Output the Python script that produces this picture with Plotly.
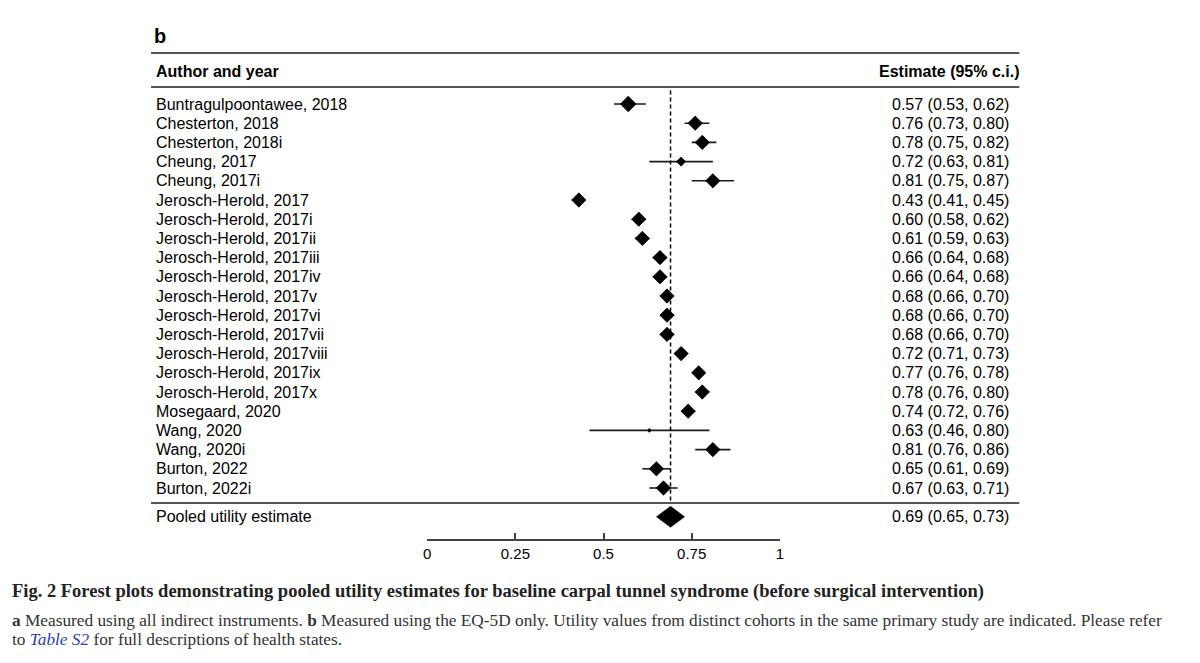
import plotly.graph_objects as go

studies = [
    "Buntragulpoontawee, 2018", "Chesterton, 2018", "Chesterton, 2018i",
    "Cheung, 2017", "Cheung, 2017i", "Jerosch-Herold, 2017",
    "Jerosch-Herold, 2017i", "Jerosch-Herold, 2017ii", "Jerosch-Herold, 2017iii",
    "Jerosch-Herold, 2017iv", "Jerosch-Herold, 2017v", "Jerosch-Herold, 2017vi",
    "Jerosch-Herold, 2017vii", "Jerosch-Herold, 2017viii", "Jerosch-Herold, 2017ix",
    "Jerosch-Herold, 2017x", "Mosegaard, 2020", "Wang, 2020", "Wang, 2020i",
    "Burton, 2022", "Burton, 2022i",
]
est = [0.57, 0.76, 0.78, 0.72, 0.81, 0.43, 0.60, 0.61, 0.66, 0.66, 0.68,
       0.68, 0.68, 0.72, 0.77, 0.78, 0.74, 0.63, 0.81, 0.65, 0.67]
ci_low = [0.53, 0.73, 0.75, 0.63, 0.75, 0.41, 0.58, 0.59, 0.64, 0.64, 0.66,
          0.66, 0.66, 0.71, 0.76, 0.76, 0.72, 0.46, 0.76, 0.61, 0.63]
ci_high = [0.62, 0.80, 0.82, 0.81, 0.87, 0.45, 0.62, 0.63, 0.68, 0.68, 0.70,
           0.70, 0.70, 0.73, 0.78, 0.80, 0.76, 0.80, 0.86, 0.69, 0.71]
weights = [12, 11, 11, 7, 11, 11, 11, 11, 11, 11, 11, 11, 11, 11, 11, 11, 11, 3, 11, 11, 11]

pooled_label = "Pooled utility estimate"
pooled_est = 0.69
pooled_low = 0.65
pooled_high = 0.73

tick_vals = [0, 0.25, 0.5, 0.75, 1]
tick_text = ["0", "0.25", "0.5", "0.75", "1"]

n = len(studies)
rows = list(range(n))
pooled_row = n + 0.5

FONT = "Liberation Sans, Arial, sans-serif"
SERIF = "Liberation Serif, DejaVu Serif, serif"
W, H = 1200, 663
OFF = 8  # page body margin
row_h = 19.2
top_px = 104 - OFF
y_top = -top_px / row_h
y_bot = (H - top_px) / row_h

def py(px):
    return 1 - (px - OFF) / H

def pxx(px):
    return (px - OFF) / W

fig = go.Figure()

fig.add_trace(go.Scatter(
    x=est, y=rows, mode="markers",
    marker=dict(symbol="diamond", size=weights, color="#000000", opacity=1,
                line=dict(width=0.8, color="#000000")),
    error_x=dict(type="data", symmetric=False,
                 array=[h - e for h, e in zip(ci_high, est)],
                 arrayminus=[e - l for e, l in zip(est, ci_low)],
                 width=0, thickness=1.6, color="#1a1a1a"),
    showlegend=False, hoverinfo="skip",
))

dh = 0.55
fig.add_trace(go.Scatter(
    x=[pooled_low, pooled_est, pooled_high, pooled_est, pooled_low],
    y=[pooled_row, pooled_row - dh, pooled_row, pooled_row + dh, pooled_row],
    mode="lines", fill="toself", fillcolor="black",
    line=dict(color="black", width=0.5),
    showlegend=False, hoverinfo="skip",
))

fig.add_shape(type="line", xref="x", yref="y",
              x0=pooled_est, x1=pooled_est, y0=-0.7, y1=n - 0.3,
              line=dict(color="black", width=1.5, dash="4px,3px"))

x_left = pxx(148)
x_right = pxx(1022)
for ypx, wd in [(53, 2.2), (87, 1.8), (503, 1.8)]:
    fig.add_shape(type="line", xref="paper", yref="paper",
                  x0=x_left, x1=x_right, y0=py(ypx), y1=py(ypx),
                  line=dict(color="#555555", width=wd))

LX = pxx(155 - 4)
ann = []
ann.append(dict(text="<b>b</b>", x=pxx(153 - 4), y=py(36), xref="paper", yref="paper",
                xanchor="left", yanchor="middle", showarrow=False,
                font=dict(family=FONT, size=20, color="black")))
ann.append(dict(text="<b>Author and year</b>", x=LX, y=py(71), xref="paper", yref="paper",
                xanchor="left", yanchor="middle", showarrow=False,
                font=dict(family=FONT, size=16, color="black")))
ann.append(dict(text="<b>Estimate (95% c.i.)</b>", x=pxx(1022 + 3), y=py(71), xref="paper", yref="paper",
                xanchor="right", yanchor="middle", showarrow=False,
                font=dict(family=FONT, size=16, color="black")))

RX = pxx(1011 + 3)
for i, s in enumerate(studies):
    ann.append(dict(text=s, x=LX, y=i, xref="paper", yref="y",
                    xanchor="left", yanchor="middle", showarrow=False,
                    font=dict(family=FONT, size=16, color="black")))
    ann.append(dict(text=f"{est[i]:.2f} ({ci_low[i]:.2f}, {ci_high[i]:.2f})",
                    x=RX, y=i, xref="paper", yref="y",
                    xanchor="right", yanchor="middle", showarrow=False,
                    font=dict(family=FONT, size=16, color="black")))
ann.append(dict(text=pooled_label, x=LX, y=pooled_row, xref="paper", yref="y",
                xanchor="left", yanchor="middle", showarrow=False,
                font=dict(family=FONT, size=16, color="black")))
ann.append(dict(text=f"{pooled_est:.2f} ({pooled_low:.2f}, {pooled_high:.2f})",
                x=RX, y=pooled_row, xref="paper", yref="y",
                xanchor="right", yanchor="middle", showarrow=False,
                font=dict(family=FONT, size=16, color="black")))

CX = pxx(10 - 4)
ann.append(dict(text="<b>Fig. 2 Forest plots demonstrating pooled utility estimates for baseline carpal tunnel syndrome (before surgical intervention)</b>",
                x=CX, y=py(591), xref="paper", yref="paper",
                xanchor="left", yanchor="middle", showarrow=False,
                font=dict(family=SERIF, size=18.5, color="#222222")))
ann.append(dict(text="<b>a</b> Measured using all indirect instruments. <b>b</b> Measured using the EQ-5D only. Utility values from distinct cohorts in the same primary study are indicated. Please refer",
                x=CX, y=py(620), xref="paper", yref="paper",
                xanchor="left", yanchor="middle", showarrow=False,
                font=dict(family=SERIF, size=17.3, color="#333333")))
ann.append(dict(text="to <i><span style='color:#2c3fb5'>Table S2</span></i> for full descriptions of health states.",
                x=CX, y=py(639), xref="paper", yref="paper",
                xanchor="left", yanchor="middle", showarrow=False,
                font=dict(family=SERIF, size=17.3, color="#333333")))

fig.update_layout(
    width=W, height=H,
    margin=dict(l=0, r=0, t=0, b=0),
    paper_bgcolor="white", plot_bgcolor="white",
    annotations=ann,
    xaxis=dict(domain=[pxx(426), pxx(781)], range=[0, 1], anchor="free", position=py(540),
               showline=True, linecolor="#444444", linewidth=1.5,
               ticks="inside", ticklen=6, tickwidth=1.5, tickcolor="#444444",
               tickvals=tick_vals, ticktext=tick_text, showgrid=False, zeroline=False,
               tickfont=dict(family=FONT, size=15, color="black"),
               fixedrange=True),
    yaxis=dict(domain=[0, 1], range=[y_bot, y_top], visible=False,
               showgrid=False, zeroline=False, fixedrange=True),
)

fig.write_html("out.html")
